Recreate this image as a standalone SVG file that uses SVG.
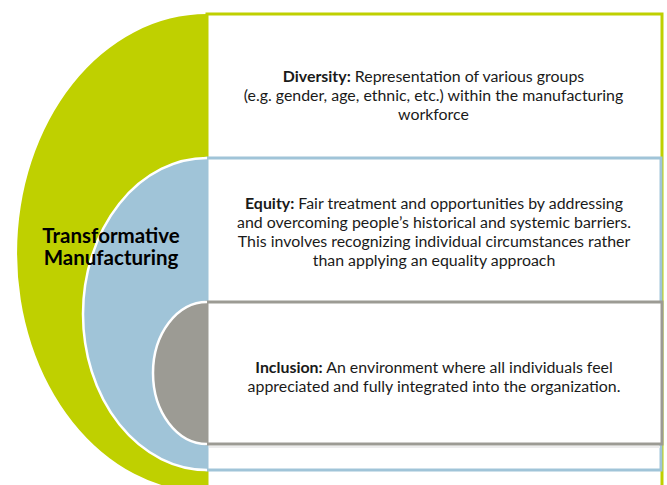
<svg xmlns="http://www.w3.org/2000/svg" width="667" height="485" viewBox="0 0 667 485">
<style>
.t{font-family:Lato,"Noto Sans","Liberation Sans",sans-serif;font-size:15.9px;fill:#1a1a1a;text-anchor:middle}
.b{font-weight:bold}
.title{font-family:Lato,"Noto Sans","Liberation Sans",sans-serif;font-size:20.5px;font-weight:bold;fill:#000;text-anchor:middle}
.arc{fill:none;stroke:#fff;stroke-width:2.5}
</style>
<rect width="667" height="485" fill="#fff"/>
<g id="diversity">
<rect x="207" y="14" width="455" height="482" fill="#fff" stroke="#BFD000" stroke-width="3"/>
<path d="M207,14 A190,239 0 0 0 207,492 Z" fill="#BFD000"/>
<text class="t" x="433.5" y="82"><tspan class="b">Diversity:</tspan> Representation of various groups</text>
<text class="t" x="433.5" y="101">(e.g. gender, age, ethnic, etc.) within the manufacturing</text>
<text class="t" x="433.5" y="120">workforce</text>
</g>
<g id="equity">
<rect x="207" y="158" width="454" height="312" fill="#fff" stroke="#A0C4D8" stroke-width="3"/>
<path d="M207,158 A124,156 0 0 0 207,470 Z" fill="#A0C4D8"/>
<path class="arc" d="M207,158 A124,156 0 0 0 207,470"/>
<line x1="209" y1="447" x2="660" y2="447" stroke="#ececec" stroke-width="2"/>
<text class="t" x="434" y="209"><tspan class="b">Equity:</tspan> Fair treatment and opportunities by addressing</text>
<text class="t" x="434" y="228">and overcoming people’s historical and systemic barriers.</text>
<text class="t" x="434" y="247">This involves recognizing individual circumstances rather</text>
<text class="t" x="434" y="266">than applying an equality approach</text>
</g>
<g id="inclusion">
<rect x="207" y="302" width="455" height="142" fill="#fff" stroke="#9C9B94" stroke-width="3"/>
<path d="M207,302 A54,71 0 0 0 207,444 Z" fill="#9C9B94"/>
<path class="arc" d="M207,302 A54,71 0 0 0 207,444"/>
<text class="t" x="434" y="373"><tspan class="b">Inclusion:</tspan> An environment where all individuals feel</text>
<text class="t" x="434" y="392">appreciated and fully integrated into the organization.</text>
</g>
<g id="title">
<text class="title" x="111" y="242.5">Transformative</text>
<text class="title" x="111" y="264.5">Manufacturing</text>
</g>
<g id="connectors"/>
</svg>
